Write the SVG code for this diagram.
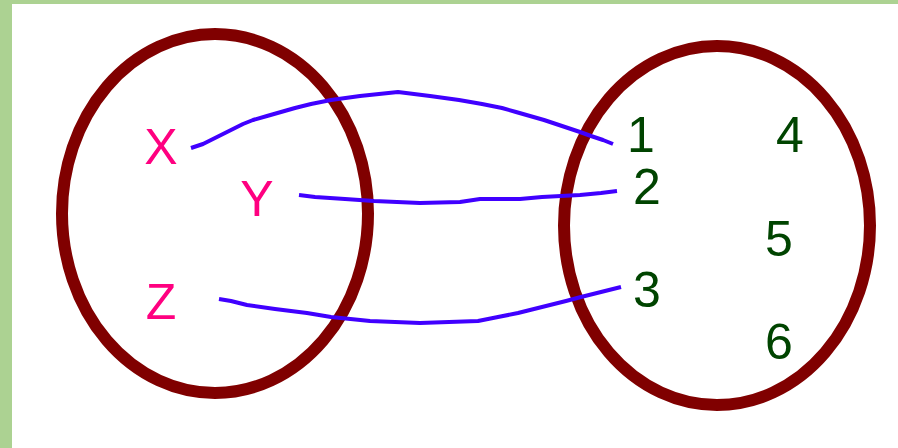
<svg xmlns="http://www.w3.org/2000/svg" width="898" height="448" viewBox="0 0 898 448">
  <style>
    .set { fill: none; stroke: #800000; stroke-width: 12; }
    .link { fill: none; stroke: #4000ff; stroke-width: 4; stroke-linejoin: round; stroke-linecap: butt; }
    .dom { font-family: "Liberation Sans", Arial, sans-serif; font-size: 50px; fill: #ff0080; text-anchor: middle; }
    .cod { font-family: "Liberation Sans", Arial, sans-serif; font-size: 50px; fill: #004400; text-anchor: middle; }
  </style>
  <rect x="0" y="0" width="898" height="448" fill="#acd292"/>
  <rect x="12" y="4" width="886" height="444" fill="#ffffff"/>

  <g id="set-domain">
    <ellipse class="set" cx="215" cy="213.5" rx="153" ry="179.5"/>
  </g>
  <g id="set-codomain">
    <ellipse class="set" cx="717" cy="225.5" rx="153" ry="179.5"/>
  </g>

  <g id="connectors">
    <polyline class="link" points="191,148 203,144 211,140 219,136 227,132 235,128 243,124 253,120 267,116 281,112 295,108 311,104 331,100 360,96 398,92 430,96 459,100 482,104 502,108 516,112 530,116 544,120 556,124 568,128 580,132 591,136 603,140 613,144"/>
    <polyline class="link" points="299,195 315,197 345,199 374,201 420,203 460,202 480,199 520,199 542,197 580,195 601,193 617,191"/>
    <polyline class="link" points="219,299 231,301 247,305 275,309 307,313 331,317 370,321 420,323 478,321 498,317 518,313 534,309 550,305 566,301 581,297 597,293 613,289 621,287"/>
  </g>

  <g id="node-x"><text class="dom" x="161" y="164">X</text></g>
  <g id="node-y"><text class="dom" x="257" y="216">Y</text></g>
  <g id="node-z"><text class="dom" x="161" y="319">Z</text></g>

  <g id="node-1"><text class="cod" x="641" y="152">1</text></g>
  <g id="node-2"><text class="cod" x="647" y="204">2</text></g>
  <g id="node-3"><text class="cod" x="647" y="307">3</text></g>
  <g id="node-4"><text class="cod" x="790" y="152">4</text></g>
  <g id="node-5"><text class="cod" x="779" y="256">5</text></g>
  <g id="node-6"><text class="cod" x="779" y="359">6</text></g>
</svg>
